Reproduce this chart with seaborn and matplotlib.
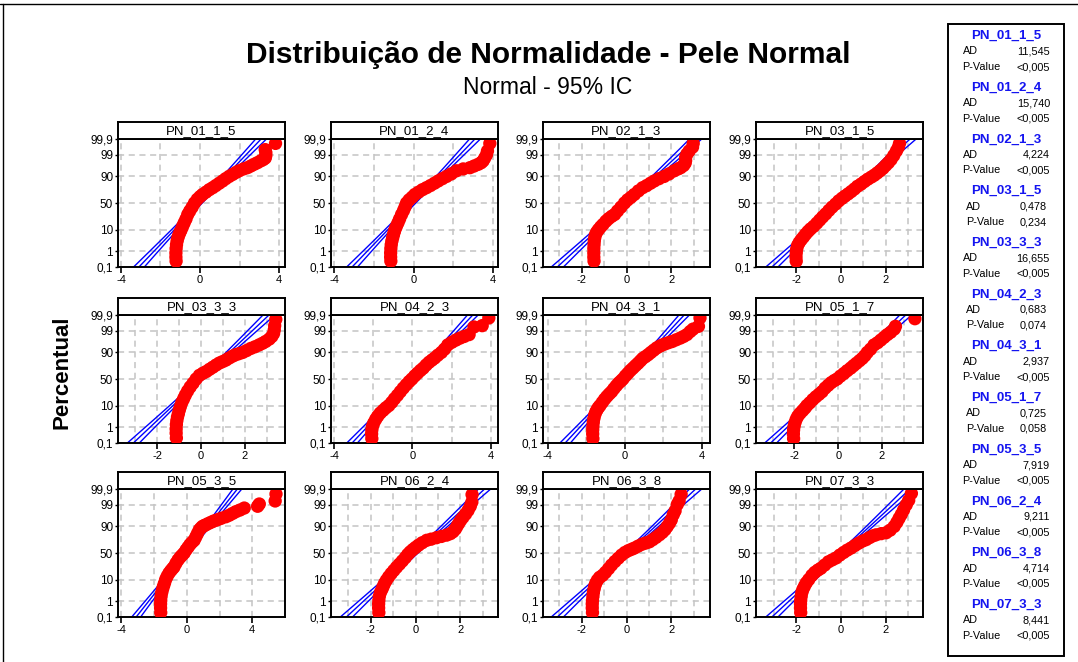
import numpy as np
import matplotlib
matplotlib.use("Agg")
import matplotlib.pyplot as plt
import matplotlib.ticker as mticker
from matplotlib.patches import Rectangle
from matplotlib.lines import Line2D
import seaborn as sns
from statistics import NormalDist

# ---------------------------------------------------------------- data
samples = ["PN_01_1_5", "PN_01_2_4", "PN_02_1_3", "PN_03_1_5",
           "PN_03_3_3", "PN_04_2_3", "PN_04_3_1", "PN_05_1_7",
           "PN_05_3_5", "PN_06_2_4", "PN_06_3_8", "PN_07_3_3"]

ad_values = [11.545, 15.740, 4.224, 0.478, 16.655, 0.683,
             2.937, 0.725, 7.919, 9.211, 4.714, 8.441]
p_values = ["<0,005", "<0,005", "<0,005", "0,234", "<0,005", "0,074",
            "<0,005", "0,058", "<0,005", "<0,005", "<0,005", "<0,005"]

# standardized measurements: fitted normal parameters and sample sizes
fit_mean = [0.0, 0.0, 0.0, 0.0, 0.0, 0.0, 0.0, 0.0, 0.0, 0.0, 0.0, 0.0]
fit_sd = [1.0, 1.0, 1.0, 1.0, 1.0, 1.0, 1.0, 1.0, 1.0, 1.0, 1.0, 1.0]
sample_n = [300, 300, 300, 300, 300, 300, 300, 300, 300, 300, 300, 300]

# ordered values and their cumulative percentages
pn_01_1_5_x = [-1.21, -1.22, -1.22, -1.21, -1.19, -1.16, -1.12, -1.07, -1.01, -0.95,
               -0.88, -0.80, -0.71, -0.62, -0.52, -0.40, -0.28, -0.14, 0.00, 0.13,
               0.30, 0.47, 0.64, 0.80, 0.97, 1.14, 1.30, 1.47, 1.65, 1.82,
               1.98, 2.20, 2.40, 2.57, 2.73, 2.90, 3.07, 3.20, 3.30, 3.33,
               3.33, 3.30, 3.82]
pn_01_1_5_pct = [0.25, 0.45, 0.8, 1.4, 2.2, 3.3, 4.6, 6.2, 8.0, 10,
                 13, 17, 22, 29, 35, 42, 50, 57, 62, 66,
                 70, 74, 77, 80, 83, 85.6, 88, 90, 91.6, 93,
                 94, 95, 95.6, 96.3, 96.9, 97.4, 97.9, 98.2, 98.5, 98.9,
                 99.25, 99.5, 99.8]

pn_01_2_4_x = [-1.14, -1.15, -1.15, -1.14, -1.12, -1.09, -1.05, -1.01, -0.97, -0.93,
               -0.86, -0.78, -0.70, -0.60, -0.50, -0.42, -0.35, -0.22, -0.07, 0.07,
               0.25, 0.45, 0.65, 0.85, 1.05, 1.24, 1.45, 1.66, 1.90, 2.16,
               2.50, 2.84, 3.05, 3.25, 3.40, 3.50, 3.58, 3.67, 3.72, 3.84]
pn_01_2_4_pct = [0.25, 0.45, 0.8, 1.4, 2.2, 3.3, 4.6, 6.2, 8.0, 10,
                 13, 17, 22, 29, 36, 43, 50, 56, 61, 66,
                 70, 74, 77, 80, 83, 85.6, 88, 90, 92, 94,
                 95, 95.6, 96.3, 96.9, 97.4, 97.9, 98.5, 99, 99.4, 99.8]

pn_02_1_3_x = [-1.45, -1.46, -1.46, -1.46, -1.45, -1.44, -1.42, -1.39, -1.33, -1.25,
               -1.15, -1.05, -0.92, -0.80, -0.66, -0.53, -0.40, -0.25, -0.09, 0.05,
               0.20, 0.35, 0.53, 0.72, 0.90, 1.07, 1.24, 1.45, 1.68, 1.90,
               2.13, 2.30, 2.42, 2.55, 2.62, 2.64, 2.64, 2.70, 2.80, 2.95, 2.98]
pn_02_1_3_pct = [0.25, 0.45, 0.8, 1.4, 2.2, 3.3, 4.6, 6.2, 8, 10,
                 12.5, 15, 19, 22.5, 26, 29, 35, 42, 50, 56,
                 61, 66, 72, 77, 80, 83, 85.6, 88, 90, 92,
                 94, 95, 95.6, 96.5, 97.3, 98, 98.6, 99.1, 99.4, 99.65, 99.8]

pn_03_1_5_x = [-2.00, -2.01, -2.00, -1.98, -1.94, -1.87, -1.78, -1.68, -1.58, -1.47,
               -1.36, -1.22, -1.08, -0.95, -0.82, -0.68, -0.54, -0.40, -0.24, -0.10,
               0.05, 0.18, 0.32, 0.46, 0.60, 0.74, 0.90, 1.05, 1.20, 1.36,
               1.49, 1.62, 1.75, 1.88, 2.00, 2.12, 2.24, 2.36, 2.48, 2.57, 2.62]
pn_03_1_5_pct = [0.25, 0.45, 0.8, 1.3, 2.0, 2.8, 3.8, 5, 6.6, 8.5,
                 10.5, 13, 16.5, 20.5, 25, 30, 36, 42, 48, 54,
                 59, 63, 67, 71, 75, 79, 82, 85, 87.5, 89.5,
                 91, 92.6, 94, 95.3, 96.5, 97.4, 98.2, 98.9, 99.4, 99.65, 99.8]

pn_03_3_3_x = [-1.13, -1.14, -1.14, -1.13, -1.11, -1.08, -1.04, -1.00, -0.95, -0.88,
               -0.80, -0.72, -0.62, -0.50, -0.37, -0.23, -0.08, 0.08, 0.23, 0.38,
               0.53, 0.68, 0.83, 0.98, 1.13, 1.28, 1.43, 1.58, 1.73, 1.89,
               2.07, 2.26, 2.45, 2.64, 2.80, 2.94, 3.10, 3.22, 3.30, 3.33,
               3.35, 3.40]
pn_03_3_3_pct = [0.22, 0.45, 0.8, 1.4, 2.2, 3.3, 4.6, 6.5, 9, 13,
                 17, 22, 28, 35, 42, 50, 57, 61, 64, 68,
                 71.5, 75, 78, 80, 82, 84.5, 86.5, 88, 89, 90,
                 91.5, 93, 94, 95, 95.8, 96.5, 97.3, 98, 98.6, 99.1,
                 99.5, 99.8]

pn_04_2_3_x = [-2.08, -2.09, -2.08, -2.05, -1.98, -1.88, -1.78, -1.65, -1.50, -1.36,
               -1.21, -1.06, -0.92, -0.77, -0.62, -0.47, -0.32, -0.17, -0.03, 0.12,
               0.26, 0.41, 0.55, 0.70, 0.85, 1.00, 1.14, 1.30, 1.48, 1.64,
               1.81, 2.02, 2.23, 2.44, 2.65, 2.90, 3.15, 3.57, 3.91]
pn_04_2_3_pct = [0.2, 0.4, 0.7, 1.1, 1.7, 2.6, 3.6, 5, 6.5, 8.2,
                 10, 13, 17, 21.5, 27, 33, 39, 45, 50, 56,
                 61, 66, 70, 75, 79, 82, 84.5, 87.5, 90, 92.5,
                 95, 96.2, 97, 97.6, 98, 98.4, 99.4, 99.5, 99.84]

pn_04_3_1_x = [-1.65, -1.66, -1.66, -1.65, -1.63, -1.60, -1.56, -1.50, -1.43, -1.36,
               -1.28, -1.16, -1.04, -0.92, -0.80, -0.68, -0.56, -0.44, -0.32, -0.20,
               -0.09, 0.04, 0.17, 0.30, 0.43, 0.56, 0.69, 0.82, 0.94, 1.08,
               1.22, 1.36, 1.51, 1.66, 1.81, 1.96, 2.13, 2.30, 2.47, 2.68,
               2.89, 3.06, 3.23, 3.40, 3.55, 3.83, 3.91]
pn_04_3_1_pct = [0.2, 0.4, 0.7, 1.1, 1.8, 2.8, 4, 5.5, 7, 8.5,
                 10, 13, 16.5, 20, 23.5, 27, 32, 37, 42, 46,
                 50, 56, 61, 66, 70, 74, 77.5, 81, 84, 86,
                 88, 90, 91.8, 93.3, 94.3, 95, 95.6, 96.1, 96.5, 97.1,
                 97.6, 98, 98.4, 98.9, 99.2, 99.45, 99.84]

pn_05_1_7_x = [-2.04, -2.05, -2.04, -2.02, -1.98, -1.92, -1.85, -1.75, -1.63, -1.52,
               -1.43, -1.30, -1.16, -1.02, -0.88, -0.74, -0.60, -0.46, -0.32, -0.18,
               -0.05, 0.10, 0.26, 0.41, 0.57, 0.70, 0.83, 0.97, 1.10, 1.22,
               1.33, 1.48, 1.64, 1.80, 1.95, 2.10, 2.25, 2.40, 2.56, 2.62, 3.51]
pn_05_1_7_pct = [0.2, 0.4, 0.7, 1.1, 1.7, 2.6, 3.6, 4.8, 6.3, 8,
                 10, 12.5, 16, 19.5, 23, 27, 33, 38, 43, 47,
                 50, 55.5, 60.5, 65.5, 70, 74, 77.5, 81, 84, 87,
                 90, 92.5, 95, 96, 97, 97.8, 98.4, 98.8, 99.2, 99.45, 99.82]

pn_05_3_5_x = [-1.59, -1.60, -1.60, -1.59, -1.57, -1.53, -1.48, -1.42, -1.36, -1.29,
               -1.20, -1.09, -0.98, -0.87, -0.78, -0.66, -0.53, -0.40, -0.28, -0.16,
               -0.04, 0.08, 0.20, 0.33, 0.45, 0.55, 0.65, 0.76, 0.86, 0.96,
               1.06, 1.16, 1.32, 1.50, 1.68, 1.88, 2.10, 2.39, 2.60, 2.80,
               3.00, 3.25, 3.51, 4.33, 4.43, 5.40, 5.45]
pn_05_3_5_pct = [0.2, 0.4, 0.7, 1.1, 1.8, 2.8, 4, 5.5, 7.3, 10,
                 13, 16.5, 19.5, 22.5, 25, 31, 37, 42, 46, 50,
                 56, 61, 66, 70, 73, 78, 82.5, 86.7, 88.5, 90,
                 90.7, 91.3, 92.3, 93.2, 94, 94.6, 95.3, 96, 96.6, 97.2,
                 97.7, 98.1, 98.5, 98.8, 99.1, 99.4, 99.78]

pn_06_2_4_x = [-1.64, -1.65, -1.65, -1.64, -1.62, -1.57, -1.50, -1.44, -1.38, -1.30,
               -1.20, -1.09, -0.97, -0.85, -0.72, -0.59, -0.46, -0.35, -0.24, -0.12,
               0.00, 0.13, 0.30, 0.50, 0.70, 0.94, 1.16, 1.39, 1.56, 1.68,
               1.78, 1.85, 1.93, 2.02, 2.12, 2.24, 2.35, 2.45, 2.52, 2.53]
pn_06_2_4_pct = [0.2, 0.4, 0.7, 1.1, 1.8, 2.8, 4, 5.5, 7.3, 9.5,
                 12.5, 16, 20, 24.5, 29.5, 35, 41, 47, 52, 56.5,
                 60.5, 64.6, 69, 73, 74.8, 77, 78.8, 80.6, 82.5, 84.8,
                 87.5, 90, 92.3, 94.3, 95.7, 97, 98, 98.8, 99.3, 99.76]

pn_06_3_8_x = [-1.52, -1.53, -1.53, -1.52, -1.50, -1.48, -1.45, -1.42, -1.37, -1.30,
               -1.20, -1.07, -0.94, -0.80, -0.67, -0.52, -0.37, -0.22, -0.07, 0.08,
               0.22, 0.36, 0.52, 0.70, 0.86, 1.02, 1.17, 1.32, 1.47, 1.60,
               1.72, 1.82, 1.92, 2.00, 2.09, 2.17, 2.27, 2.35, 2.44]
pn_06_3_8_pct = [0.2, 0.4, 0.7, 1.1, 1.8, 2.8, 4, 5.5, 7.3, 9.5,
                 12, 14, 17.5, 22.5, 28, 34, 40, 46, 51, 54.5,
                 57, 59.5, 63, 66.5, 68.5, 70.5, 74, 77.5, 81, 84,
                 87, 90, 92.5, 94.5, 96.8, 97.9, 99.05, 99.4, 99.77]

pn_07_3_3_x = [-1.80, -1.81, -1.81, -1.80, -1.78, -1.75, -1.70, -1.63, -1.55, -1.44,
               -1.30, -1.17, -1.03, -0.90, -0.73, -0.56, -0.39, -0.22, -0.05, 0.12,
               0.28, 0.45, 0.62, 0.78, 0.95, 1.12, 1.27, 1.42, 1.57, 1.80,
               2.02, 2.20, 2.38, 2.50, 2.60, 2.70, 2.80, 2.92, 3.03, 3.15]
pn_07_3_3_pct = [0.2, 0.4, 0.7, 1.1, 1.8, 2.8, 4, 5.5, 7.5, 10,
                 14, 17.5, 20.5, 23, 28, 33.5, 37, 40.5, 46, 51,
                 55.5, 59.5, 64, 68, 71.5, 74, 77, 79.5, 81, 82.5,
                 83.6, 86.5, 90, 93, 95.3, 96.9, 98.1, 99, 99.45, 99.8]

panel_x = [pn_01_1_5_x, pn_01_2_4_x, pn_02_1_3_x, pn_03_1_5_x,
           pn_03_3_3_x, pn_04_2_3_x, pn_04_3_1_x, pn_05_1_7_x,
           pn_05_3_5_x, pn_06_2_4_x, pn_06_3_8_x, pn_07_3_3_x]
panel_pct = [pn_01_1_5_pct, pn_01_2_4_pct, pn_02_1_3_pct, pn_03_1_5_pct,
             pn_03_3_3_pct, pn_04_2_3_pct, pn_04_3_1_pct, pn_05_1_7_pct,
             pn_05_3_5_pct, pn_06_2_4_pct, pn_06_3_8_pct, pn_07_3_3_pct]

pct_ticks = [0.1, 1, 10, 50, 90, 99, 99.9]
pct_labels = ["0,1", "1", "10", "50", "90", "99", "99,9"]

# ------------------------------------------------------------- layout
x_limits = [(-4.15, 4.30), (-4.15, 4.25), (-3.73, 3.73), (-3.80, 3.67),
            (-3.79, 3.82), (-4.17, 4.38), (-4.24, 4.43), (-3.76, 3.88),
            (-4.20, 6.00), (-3.78, 3.69), (-3.73, 3.73), (-3.80, 3.67)]
x_steps = [4, 4, 2, 2, 2, 4, 4, 2, 4, 2, 2, 2]

W, H = 1078, 662
COL_LEFT = [118, 331, 543, 756]
ROW_TOP = [139, 315, 489]
PLOT_W, PLOT_H, STRIP_H = 167, 128, 17

RED = "#ff0000"
BLUE = "#0000ff"
LEGEND_BLUE = "#1414f0"
GRID = "#c4c4c4"

sns.set_theme(style="white")
plt.rcParams["font.family"] = ["Liberation Sans", "DejaVu Sans"]
plt.rcParams["axes.unicode_minus"] = False
plt.rcParams["text.color"] = "black"
plt.rcParams["xtick.color"] = "black"
plt.rcParams["ytick.color"] = "black"
plt.rcParams["axes.labelcolor"] = "black"

fig = plt.figure(figsize=(W / 100, H / 100), dpi=100)
fig.patch.set_facecolor("white")

_std = NormalDist()
_ppf = np.vectorize(lambda v: _std.inv_cdf(v), otypes=[float])
_cdf = np.vectorize(lambda v: _std.cdf(v), otypes=[float])


def pct_to_score(p):
    p = np.clip(np.asarray(p, dtype=float) / 100.0, 1e-9, 1 - 1e-9)
    return _ppf(p)


def score_to_pct(z):
    return _cdf(np.asarray(z, dtype=float)) * 100.0


def fig_box(left, top, width, height):
    return [left / W, 1 - (top + height) / H, width / W, height / H]


for i, name in enumerate(samples):
    r, c = divmod(i, 4)
    left, top = COL_LEFT[c], ROW_TOP[r]
    ax = fig.add_axes(fig_box(left, top, PLOT_W, PLOT_H))

    # fitted normal line with its 95% confidence band
    mu, sd, n = fit_mean[i], fit_sd[i], sample_n[i]
    z = np.linspace(-3.4, 3.4, 120)
    fit_x = mu + sd * z
    half = 1.96 * sd * np.sqrt(1.0 / n + z ** 2 / (2.0 * n))
    line_pct = score_to_pct(z)
    for xs in (fit_x - half, fit_x, fit_x + half):
        sns.lineplot(x=xs, y=line_pct, sort=False, estimator=None, color=BLUE,
                     linewidth=1.0, ax=ax, zorder=2, legend=False)

    sns.scatterplot(x=np.asarray(panel_x[i]), y=np.asarray(panel_pct[i]),
                    color=RED, s=92, linewidth=0, edgecolor="none",
                    ax=ax, zorder=3, legend=False)

    ax.set_yscale("function", functions=(pct_to_score, score_to_pct))
    ax.set_ylim(0.1, 99.9)
    ax.set_xlim(*x_limits[i])
    ax.set_xlabel("")
    ax.set_ylabel("")

    ax.yaxis.set_major_locator(mticker.FixedLocator(pct_ticks))
    ax.yaxis.set_major_formatter(mticker.FixedFormatter(pct_labels))
    ax.yaxis.set_minor_locator(mticker.NullLocator())
    step = x_steps[i]
    ax.xaxis.set_major_locator(mticker.MultipleLocator(step))
    ax.xaxis.set_minor_locator(mticker.MultipleLocator(step / 2))
    ax.xaxis.set_major_formatter(mticker.FuncFormatter(lambda v, _: f"{v:g}"))

    grid_kw = dict(color=GRID, linestyle=(0, (4, 3)), linewidth=1.1)
    ax.grid(True, axis="y", which="major", **grid_kw)
    ax.grid(True, axis="x", which="both", **grid_kw)
    ax.set_axisbelow(True)

    ax.tick_params(axis="x", which="major", direction="out", length=4, width=1.2,
                   labelsize=8, pad=2, color="black", bottom=True)
    ax.tick_params(axis="x", which="minor", length=0, bottom=False)
    ax.tick_params(axis="y", which="major", direction="out", length=2, width=1,
                   labelsize=8.5, pad=1.5, color="black", left=True)
    for sp in ax.spines.values():
        sp.set_visible(True)
        sp.set_color("black")
        sp.set_linewidth(1.4)

    # panel title strip
    sax = fig.add_axes(fig_box(left, top - STRIP_H, PLOT_W, STRIP_H))
    sax.set_xticks([])
    sax.set_yticks([])
    sax.set_facecolor("white")
    for sp in sax.spines.values():
        sp.set_visible(True)
        sp.set_color("black")
        sp.set_linewidth(1.4)
    sax.text(0.5, 0.45, name, ha="center", va="center", fontsize=9.5,
             transform=sax.transAxes)

# titles
fig.text(548 / W, 1 - 55 / H, "Distribuição de Normalidade - Pele Normal",
         ha="center", va="center", fontsize=21.5, fontweight="bold")
fig.text(548 / W, 1 - 87 / H, "Normal - 95% IC", ha="center", va="center",
         fontsize=16.5)
fig.text(62 / W, 1 - 372 / H, "Percentual", rotation=90, ha="center",
         va="center", fontsize=16, fontweight="bold")

# statistics table
fig.add_artist(Rectangle((948 / W, 1 - 656 / H), (1064 - 948) / W, (656 - 24) / H,
                         transform=fig.transFigure, fill=False, lw=1.4,
                         ec="black"))
for k, name in enumerate(samples):
    y0 = 36 + 51.7 * k
    shift = 3.5 if p_values[k] != "<0,005" else 0.0
    fig.text(1006 / W, 1 - y0 / H, name, color=LEGEND_BLUE, fontsize=9.5,
             fontweight="bold", ha="center", va="center")
    fig.text((962.5 + shift) / W, 1 - (y0 + 15.5) / H, "AD", fontsize=7.8,
             ha="left", va="center")
    fig.text((1050 - shift) / W, 1 - (y0 + 15.5) / H,
             f"{ad_values[k]:.3f}".replace(".", ","), fontsize=7.8,
             ha="right", va="center")
    fig.text((962.5 + shift) / W, 1 - (y0 + 31) / H, "P-Value", fontsize=7.8,
             ha="left", va="center")
    fig.text((1050 - shift) / W, 1 - (y0 + 31) / H, p_values[k], fontsize=7.8,
             ha="right", va="center")

# outer frame edges
fig.add_artist(Line2D([0, 1], [1 - 4 / H, 1 - 4 / H], transform=fig.transFigure,
                      color="black", lw=1.0))
fig.add_artist(Line2D([3 / W, 3 / W], [0, 1 - 4 / H], transform=fig.transFigure,
                      color="black", lw=1.0))

fig.savefig("out.png", dpi=100)
